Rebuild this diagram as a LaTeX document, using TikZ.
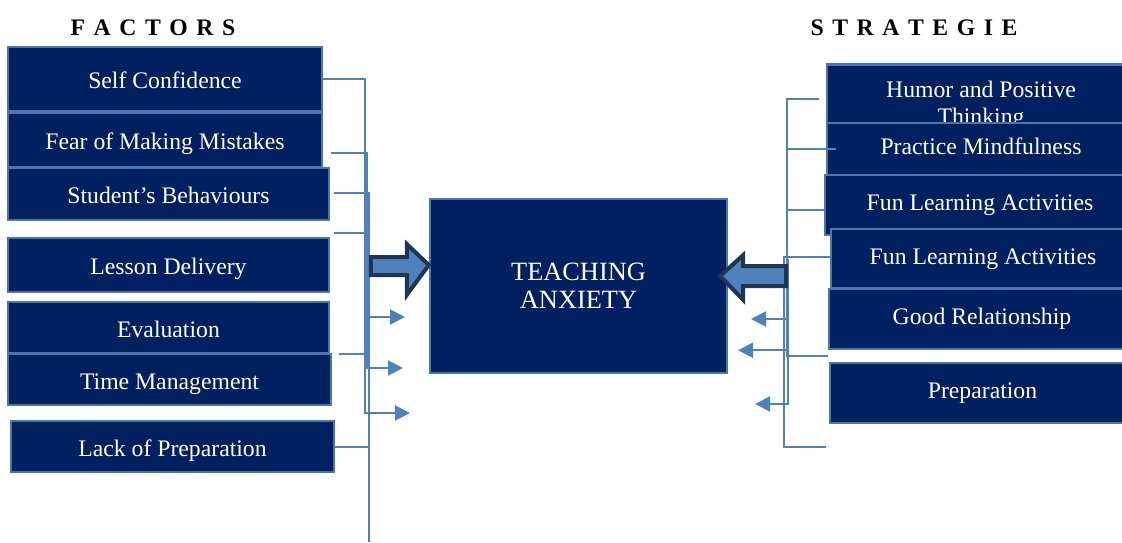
\documentclass[tikz,border=0pt]{standalone}
\usepackage{fontspec}
\setmainfont{Liberation Serif}
\usetikzlibrary{arrows.meta, calc}
\definecolor{BoxNavy}{HTML}{002060}
\definecolor{BoxEdge}{HTML}{4A76AC}
\definecolor{LinkBlue}{HTML}{4F81BD}
\definecolor{ArrowDark}{HTML}{1F3552}
\newcommand{\spacedhead}[1]{\spaceskip=0.36em\relax #1}
\tikzset{
  % Box styles
  factorbox/.style={rectangle, draw=BoxEdge, fill=BoxNavy, line width=0.05cm, text=white, font=\fontsize{13.5}{15.5}\selectfont, align=center, text height=12pt, text depth=1pt, inner sep=0pt},
  stratbox/.style={factorbox, text height=9pt, text depth=2.5pt},
  centerbox/.style={rectangle, draw=BoxEdge, fill=BoxNavy, line width=0.05cm, text=white, font=\fontsize{15}{16}\selectfont, align=center},
  headtext/.style={font=\fontsize{13.5}{16}\selectfont\bfseries, inner sep=0pt},
  % Arrow styles
  link/.style={draw=LinkBlue, line width=0.04cm},
  linkarrow/.style={link, -{Triangle[length=0.3cm, width=0.3cm]}},
  bigarrow/.style={draw=ArrowDark, fill=LinkBlue, line width=0.08cm, line join=miter}
}
\begin{document}
\begin{tikzpicture}[x=0.02cm, y=-0.02cm]
  \clip (0,0) rectangle (1122,542);

  % Headings
  \node[headtext] (facthead) at (153,28) {\spacedhead{F A C T O R S}};
  \node[headtext] (strathead) at (914,28) {\spacedhead{S T R A T E G I E}};

  % Factors
  \node[factorbox, minimum width=6.28cm, minimum height=1.28cm] (selfconf) at (165,79) {Self Confidence};
  \node[factorbox, minimum width=6.28cm, minimum height=1.08cm] (fear) at (165,140) {Fear of Making Mistakes};
  \node[factorbox, minimum width=6.42cm, minimum height=1.04cm] (students) at (168.5,194) {Student’s Behaviours};
  \node[factorbox, minimum width=6.42cm, minimum height=1.08cm] (lesson) at (168.5,265) {Lesson Delivery};
  \node[factorbox, minimum width=6.42cm, minimum height=1.02cm] (evaluation) at (168.5,327.5) {Evaluation};
  \node[factorbox, minimum width=6.46cm, minimum height=1.02cm] (timemgmt) at (169.5,379.5) {Time Management};
  \node[factorbox, minimum width=6.46cm, minimum height=1.02cm] (lackprep) at (172.5,446.5) {Lack of Preparation};

  % Teaching anxiety
  \node[centerbox, minimum width=5.94cm, minimum height=3.48cm] (teach) at (578.5,286) {TEACHING\\ANXIETY};

  % Strategies
  \node[stratbox, anchor=north, minimum width=6.16cm, text height=1.2cm, text depth=0cm] (humor) at (981,63) {Humor and Positive\\Thinking};
  \node[stratbox, minimum width=6.16cm, minimum height=1.04cm] (practice) at (981,149) {Practice Mindfulness};
  \node[stratbox, minimum width=6.2cm, minimum height=1.2cm] (funA) at (980,205) {Fun Learning Activities};
  \node[stratbox, minimum width=6.08cm, minimum height=1.18cm] (funB) at (983,258.5) {Fun Learning Activities};
  \node[stratbox, minimum width=6.12cm, minimum height=1.2cm] (goodrel) at (982,319) {Good Relationship};
  \node[stratbox, minimum width=6.1cm, minimum height=1.2cm] (prep) at (982.5,393) {Preparation};

  % Left bus
  \coordinate (lA) at (365,413);
  \coordinate (lB) at (367,368);
  \coordinate (lC) at (369,542);
  \coordinate (lD) at (370,317);
  \draw[linkarrow] (selfconf.east) -| (lA) -- ++(45,0);
  \draw[linkarrow] ($(fear.east)+(8,13)$) -| (lB) -- ++(36,0);
  \draw[link] ($(students.east)+(4,-1)$) -| (lC);
  \draw[link] ($(students.south east)+(4,12)$) -- ++(33,0);
  \draw[link] ($(timemgmt.north east)+(7,1)$) -- ++(28,0);
  \draw[link] (lackprep.east) -- (lackprep.east -| lC);
  \draw[linkarrow] (lD) -- ++(35,0);
  \draw[linkarrow] (lesson.east -| lC) -- (teach.west |- lesson.east);

  % Right bus
  \coordinate (rA) at (787,356);
  \coordinate (rB) at (784,447);
  \coordinate (rC) at (788,404);
  \draw[link] ($(humor.west)+(-7,5)$) -| (rA) -- ++(41,0);
  \draw[link] ($(practice.west)+(10,0)$) -- (practice.west -| rA);
  \draw[link] ($(funA.west)+(0,5)$) -- ($(funA.west -| rA)+(0,5)$);
  \draw[link] ($(funB.west)+(0,-1.5)$) -| (rB) -- ++(42,0);
  \draw[linkarrow] (rC |- funB.west) -- (rC) -- ++(-33,0);
  \draw[linkarrow] (rC |- goodrel.center) -- ++(-37,0);
  \draw[linkarrow] (rC |- goodrel.south) -- ++(-50,0);

  % Block arrows
  \draw[bigarrow] (teach.west |- lesson.east) -- ++(-22,-21) -- ++(0,13) -- ++(-36,0) -- ++(0,18) -- ++(36,0) -- ++(0,20) -- cycle;
  \draw[bigarrow] ($(teach.east)+(-8,-10)$) -- ++(23,-21) -- ++(0,11) -- ++(43,0) -- ++(0,20) -- ++(-43,0) -- ++(0,14) -- cycle;
\end{tikzpicture}
\end{document}
